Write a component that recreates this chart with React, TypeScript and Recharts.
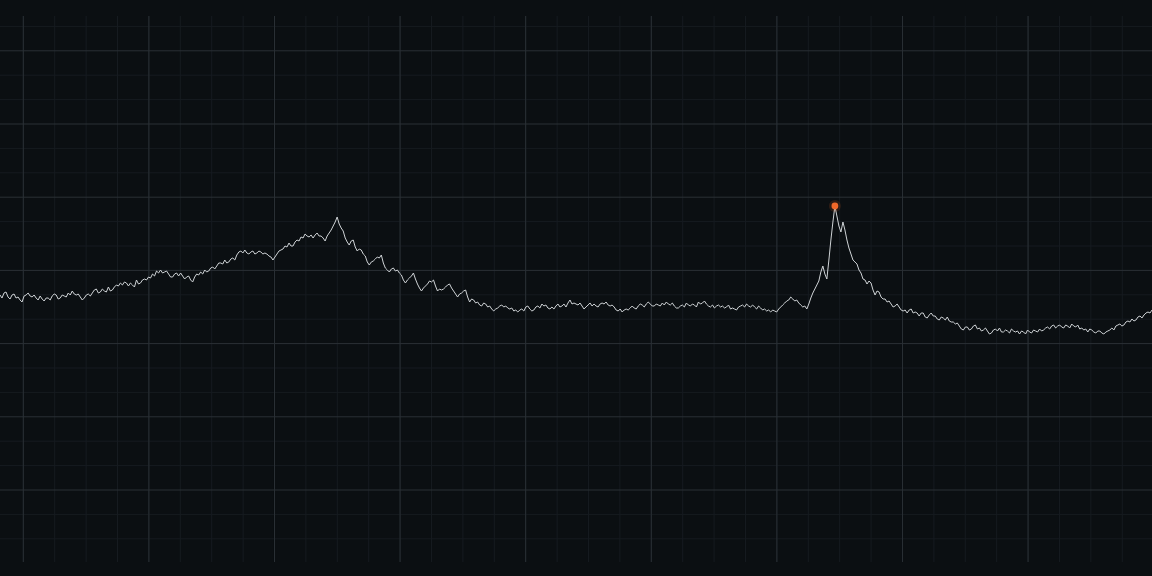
import React from "react";
import { LineChart, Line, XAxis, YAxis, CartesianGrid } from "recharts";

// Series values (arbitrary units), one per step
const values: number[] = [
  267,264,269,270,265,263,267,268,264,265,262,260,266,267,269,266,265,267,264,262,
  266,263,261,264,264,262,266,268,267,263,264,267,266,265,269,267,271,268,267,268,
  265,262,264,267,268,266,269,272,273,269,270,273,271,270,275,271,272,275,277,276,
  279,277,280,279,276,279,277,275,282,278,279,282,283,282,285,284,288,286,291,289,
  292,289,290,291,288,285,285,288,289,286,289,286,283,285,286,282,280,285,288,287,
  290,288,292,290,291,294,295,293,296,299,299,298,302,299,300,303,304,302,307,310,
  311,309,312,309,308,310,311,308,309,311,310,308,309,308,306,305,302,305,308,311,
  312,313,316,315,319,316,316,320,322,321,325,324,328,326,325,327,324,327,329,326,
  326,324,321,326,329,332,336,340,345,338,334,331,324,320,317,321,322,315,311,313,
  312,308,306,300,297,300,301,303,305,304,307,299,294,292,290,293,294,291,292,289,
  287,282,279,282,284,286,289,283,278,274,271,274,276,278,281,280,282,276,271,273,
  272,273,275,277,278,274,271,268,265,268,269,271,272,265,260,263,262,259,260,257,
  256,259,258,255,256,253,251,253,254,256,257,255,256,254,253,254,251,252,250,252,
  253,251,255,256,253,251,252,255,256,254,258,256,257,254,253,255,253,256,258,255,
  256,258,255,259,262,258,259,258,257,259,256,253,255,257,259,256,258,256,255,258,
  259,258,260,257,256,257,255,252,251,253,250,252,253,252,254,256,254,253,256,258,
  257,255,258,260,258,256,256,258,257,256,259,257,260,258,257,259,256,254,254,256,
  257,255,259,257,256,258,257,255,260,258,259,261,258,256,255,257,254,256,257,255,
  256,254,255,257,253,254,253,252,255,256,257,255,258,256,255,257,255,253,256,254,
  252,253,251,252,250,252,251,250,253,255,257,259,261,262,265,263,261,262,259,257,
  255,256,253,258,264,269,273,277,281,290,296,288,283,302,322,340,356,346,336,330,
  340,332,322,314,308,302,300,298,292,289,283,282,278,281,279,272,267,271,270,265,
  263,263,260,261,258,255,256,258,255,252,251,252,249,252,253,249,250,249,246,249,
  249,245,244,247,249,246,246,243,242,245,244,242,245,241,240,240,238,239,236,233,
  232,235,235,232,233,236,237,233,234,231,232,234,231,228,229,232,233,231,234,230,
  230,232,231,229,233,231,230,231,228,231,230,228,232,230,229,232,231,230,233,231,
  232,234,235,233,236,237,234,236,237,235,234,237,236,234,238,236,235,237,233,234,
  232,233,230,233,232,230,229,231,231,229,228,230,231,232,234,232,236,237,238,236,
  237,240,241,240,243,241,242,245,246,244,247,249,250,249,252,
];

// Grid tick positions (in axis units)
const majorXTicks = [11.61, 74.19, 136.77, 199.35, 261.93, 324.51, 387.09, 449.67, 512.25];
const minorXTicks = [
  11.61, 27.26, 42.9, 58.55, 74.19, 89.84, 105.48, 121.13, 136.77, 152.42, 168.06,
  183.71, 199.35, 215.0, 230.64, 246.29, 261.93, 277.58, 293.22, 308.87, 324.51,
  340.16, 355.8, 371.45, 387.09, 402.74, 418.38, 434.03, 449.67, 465.32, 480.96,
  496.61, 512.25, 527.9, 543.54, 559.19,
];
const majorYTicks = [72, 145.2, 218.4, 291.6, 364.8, 438, 511.2];
const minorYTicks = [
  23.2, 47.6, 96.4, 120.8, 169.6, 194, 242.8, 267.2, 316, 340.4, 389.2, 413.6,
  462.4, 486.8, 535.6,
];

const xDomain: [number, number] = [0, values.length - 1];
const yDomain: [number, number] = [0, 546];

const data = values.map((v, t) => ({ t, v }));
const peakIndex = values.indexOf(Math.max(...values));

const BG = "#0b0f12";

const renderDot = (p: any) => {
  if (p.index === peakIndex) {
    return (
      <g key="peak">
        <circle cx={p.cx} cy={p.cy} r={6} fill="#f26b2a" fillOpacity={0.15} />
        <circle cx={p.cx} cy={p.cy} r={3.4} fill="#f2692a" />
      </g>
    );
  }
  return <g key={`d${p.index}`} />;
};

export default function App() {
  return (
    <div
      style={{
        position: "fixed",
        left: 0,
        top: 0,
        width: 1152,
        height: 576,
        background: BG,
        overflow: "hidden",
      }}
    >
      <LineChart
        width={1152}
        height={576}
        data={data}
        margin={{ top: 16, right: 0, bottom: 14, left: 0 }}
      >
        <XAxis xAxisId="minor" type="number" dataKey="t" domain={xDomain} ticks={minorXTicks} interval={0} allowDataOverflow hide />
        <XAxis xAxisId="major" type="number" dataKey="t" domain={xDomain} ticks={majorXTicks} interval={0} allowDataOverflow hide />
        <YAxis yAxisId="minor" type="number" domain={yDomain} ticks={minorYTicks} interval={0} allowDataOverflow hide />
        <YAxis yAxisId="major" type="number" domain={yDomain} ticks={majorYTicks} interval={0} allowDataOverflow hide />
        <CartesianGrid xAxisId="minor" yAxisId="minor" syncWithTicks stroke="#161b20" strokeWidth={1} />
        <CartesianGrid xAxisId="major" yAxisId="major" syncWithTicks stroke="#2a3035" strokeWidth={1} />
        <Line
          xAxisId="major"
          yAxisId="major"
          type="linear"
          dataKey="v"
          stroke="#cfd3d6"
          strokeWidth={1}
          dot={renderDot}
          activeDot={false}
          isAnimationActive={false}
        />
      </LineChart>
    </div>
  );
}
